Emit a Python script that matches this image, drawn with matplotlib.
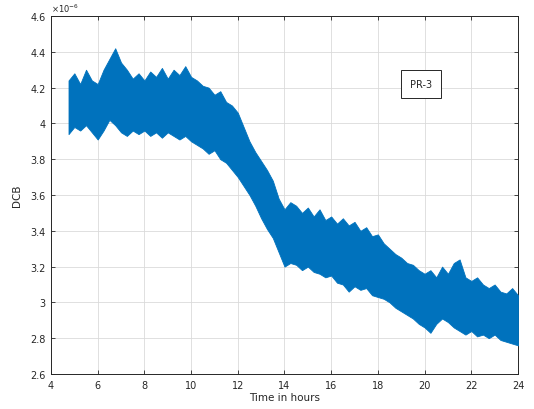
import matplotlib
matplotlib.use("Agg")
import matplotlib.pyplot as plt

hours = [4.75, 5.0, 5.25, 5.5, 5.75, 6.0, 6.25, 6.5, 6.75, 7.0, 7.25, 7.5, 7.75,
         8.0, 8.25, 8.5, 8.75, 9.0, 9.25, 9.5, 9.75, 10.0, 10.25, 10.5, 10.75,
         11.0, 11.25, 11.5, 11.75, 12.0, 12.25, 12.5, 12.75, 13.0, 13.25, 13.5,
         13.75, 14.0, 14.25, 14.5, 14.75, 15.0, 15.25, 15.5, 15.75, 16.0, 16.25,
         16.5, 16.75, 17.0, 17.25, 17.5, 17.75, 18.0, 18.25, 18.5, 18.75, 19.0,
         19.25, 19.5, 19.75, 20.0, 20.25, 20.5, 20.75, 21.0, 21.25, 21.5, 21.75,
         22.0, 22.25, 22.5, 22.75, 23.0, 23.25, 23.5, 23.75, 24.0]

dcb_upper = [4.24, 4.28, 4.22, 4.30, 4.24, 4.22, 4.30, 4.36, 4.42, 4.34, 4.30, 4.25, 4.28,
             4.24, 4.29, 4.26, 4.31, 4.25, 4.30, 4.27, 4.32, 4.26, 4.24, 4.21, 4.20,
             4.16, 4.18, 4.12, 4.10, 4.06, 3.98, 3.90, 3.84, 3.79, 3.74, 3.68,
             3.58, 3.52, 3.56, 3.54, 3.50, 3.53, 3.48, 3.52, 3.46, 3.48, 3.44,
             3.47, 3.43, 3.45, 3.40, 3.42, 3.37, 3.38, 3.33, 3.30, 3.27, 3.25,
             3.22, 3.21, 3.18, 3.16, 3.18, 3.14, 3.20, 3.16, 3.22, 3.24, 3.14,
             3.12, 3.14, 3.10, 3.08, 3.10, 3.06, 3.05, 3.08, 3.04]

dcb_lower = [3.94, 3.98, 3.96, 3.99, 3.95, 3.91, 3.96, 4.02, 3.99, 3.95, 3.93, 3.96, 3.94,
             3.96, 3.93, 3.95, 3.92, 3.95, 3.93, 3.91, 3.93, 3.90, 3.88, 3.86, 3.83,
             3.85, 3.80, 3.78, 3.74, 3.70, 3.65, 3.60, 3.54, 3.47, 3.41, 3.36,
             3.28, 3.20, 3.22, 3.21, 3.18, 3.20, 3.17, 3.16, 3.14, 3.15, 3.11,
             3.10, 3.06, 3.09, 3.07, 3.08, 3.04, 3.03, 3.02, 3.00, 2.97, 2.95,
             2.93, 2.91, 2.88, 2.86, 2.83, 2.88, 2.91, 2.89, 2.86, 2.84, 2.82,
             2.84, 2.81, 2.82, 2.80, 2.82, 2.79, 2.78, 2.77, 2.76]

x_ticks = [4, 6, 8, 10, 12, 14, 16, 18, 20, 22, 24]
y_ticks = [2.6, 2.8, 3.0, 3.2, 3.4, 3.6, 3.8, 4.0, 4.2, 4.4, 4.6]
y_ticklabels = ["2.6", "2.8", "3", "3.2", "3.4", "3.6", "3.8", "4", "4.2", "4.4", "4.6"]
series_label = "PR-3"

blue = "#0072BD"
axis_col = "#262626"

fig = plt.figure(figsize=(5.34, 4.10), dpi=100)
ax = fig.add_axes([0.0955, 0.0854, 0.8745, 0.8731])

ax.fill_between(hours, dcb_lower, dcb_upper, color=blue, linewidth=0.6,
                edgecolor=blue, zorder=3)

ax.set_xlim(4, 24)
ax.set_ylim(2.6, 4.6)
ax.set_xticks(x_ticks)
ax.set_xticklabels([str(v) for v in x_ticks])
ax.set_yticks(y_ticks)
ax.set_yticklabels(y_ticklabels)

ax.grid(True, color="#DADADA", linewidth=0.6, zorder=0)
ax.set_axisbelow(True)
for s in ax.spines.values():
    s.set_color(axis_col)
    s.set_linewidth(0.7)
ax.tick_params(direction="in", top=True, right=True, length=3, width=0.6,
               colors=axis_col, labelsize=7, pad=4)

ax.set_xlabel("Time in hours", fontsize=7.5, color=axis_col, labelpad=2)
ax.set_ylabel("DCB", fontsize=7.5, color=axis_col, labelpad=6)

ax.text(0.0, 1.006, r"$\times10^{-6}$", transform=ax.transAxes, fontsize=6,
        color=axis_col, ha="left", va="bottom")

ax.text(0.792, 0.81, series_label, transform=ax.transAxes, fontsize=7,
        color=axis_col, ha="center", va="center", zorder=5,
        bbox=dict(boxstyle="square,pad=0.9", facecolor="white",
                  edgecolor=axis_col, linewidth=0.7))

fig.savefig("out.png", dpi=100)
